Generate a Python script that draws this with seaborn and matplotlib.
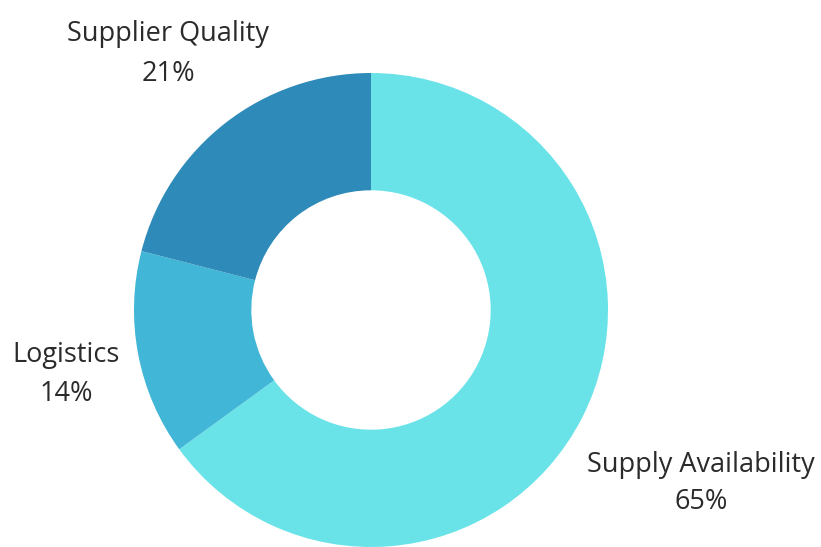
import matplotlib
matplotlib.use("Agg")
import matplotlib.pyplot as plt
import seaborn as sns

categories = ["Supply Availability", "Logistics", "Supplier Quality"]
values = [65, 14, 21]
colors = ["#6AE3E8", "#41B6D6", "#2E8AB8"]

sns.set_theme(style="white")
plt.rcParams["font.family"] = ["Open Sans", "DejaVu Sans"]

W, H = 821, 547
fig = plt.figure(figsize=(W / 100, H / 100), dpi=100)
ax = fig.add_axes([0, 0, 1, 1])

cx, cy, R = 371, H - 310, 237
ax.pie(values, colors=colors, startangle=90, counterclock=False,
       center=(cx, cy), radius=R,
       wedgeprops=dict(width=R * 0.495, edgecolor="none"))
ax.set_xlim(0, W)
ax.set_ylim(0, H)
ax.set_aspect("equal")
ax.axis("off")

label_pos = {
    "Supply Availability": (701, 465, 502),
    "Logistics": (66, 355, 394),
    "Supplier Quality": (168, 34, 74),
}
for cat, v in zip(categories, values):
    x, y1, y2 = label_pos[cat]
    ax.text(x, H - y1, cat, ha="center", va="center", fontsize=19.5, color="#2b2b2b")
    ax.text(x, H - y2, f"{v}%", ha="center", va="center", fontsize=19.5, color="#2b2b2b")

fig.savefig("out.png", dpi=100)
